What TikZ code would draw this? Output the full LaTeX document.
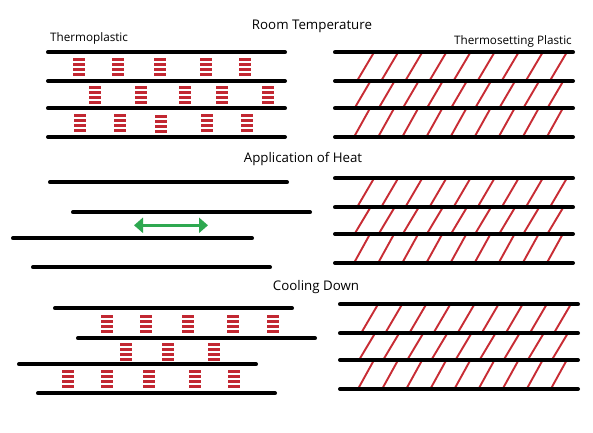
\documentclass[tikz,border=0pt]{standalone}
\usepackage{fontspec}
\setmainfont{Open Sans}
\usetikzlibrary{arrows.meta}
\definecolor{ladred}{RGB}{194,40,50}
\definecolor{hatred}{RGB}{200,44,52}
\definecolor{arrgreen}{RGB}{46,168,80}
\tikzset{
  chain/.style={line width=4pt, line cap=round, black},
  hatch/.style={line width=1.9pt, hatred},
  bigtitle/.style={font=\fontsize{13.3}{15}\selectfont, inner sep=0pt},
  smalltitle/.style={font=\fontsize{11.7}{13}\selectfont, inner sep=0pt},
  heatarrow/.style={line width=3pt, arrgreen, {Triangle[length=9pt,width=15pt]}-{Triangle[length=9pt,width=15pt]}}
}
\newcommand{\ladderat}[2]{%
  \foreach \k in {0,1,2,3}{\fill[ladred] (#1-6,#2+\k*5) rectangle (#1+6,#2+\k*5+3.2);}}
\newcommand{\hatchrow}[4]{% x0 dx ybottom ytop
  \foreach \i in {0,...,8}{\draw[hatch] (#1+\i*24.1,#3) -- (#1+\i*24.1+#2,#4);}}
\begin{document}
\begin{tikzpicture}[x=1pt,y=-1pt]
\useasboundingbox[fill=white] (0,0) rectangle (593,432);
% titles
\node[bigtitle] (t1) at (312,26) {Room Temperature};
\node[smalltitle, anchor=west] (tp) at (50,38) {Thermoplastic};
\node[smalltitle, anchor=east] (ts) at (572,41) {Thermosetting Plastic};
\node[bigtitle] (t2) at (303,159) {Application of Heat};
\node[bigtitle] (t3) at (316,287) {Cooling Down};
% ---- top left: thermoplastic at room temperature
\foreach \x in {79,118,160,206,245}{\ladderat{\x}{58}}
\foreach \x in {95,141,185,222,268}{\ladderat{\x}{86}}
\foreach \x in {80,120,207,247}{\ladderat{\x}{114}}
\ladderat{161}{115}
\foreach \y in {52.3,81,108.3,137}{\draw[chain] (48,\y) -- (285,\y);}
% ---- top right: thermosetting
\hatchrow{357}{17}{81}{52.3}
\hatchrow{354.5}{16}{108.3}{81}
\hatchrow{354}{16}{137}{108.3}
\foreach \y in {52.3,81,108.3,137}{\draw[chain] (335,\y) -- (573,\y);}
% ---- middle left: heated thermoplastic
\draw[chain] (50,182.3) -- (287,182.3);
\draw[chain] (73,212.3) -- (310,212.3);
\draw[chain] (13,238.3) -- (252,238.3);
\draw[chain] (33,267.3) -- (270,267.3);
\coordinate (hl) at (134,225.3);
\coordinate (hr) at (208,225.3);
\draw[heatarrow] (hl) -- (hr);
% ---- middle right
\hatchrow{357}{17}{207.3}{178.3}
\hatchrow{354.5}{16}{234}{207.3}
\hatchrow{354}{16}{263}{234}
\foreach \y in {178.3,207.3,234,263}{\draw[chain] (335,\y) -- (573,\y);}
% ---- bottom left: cooled thermoplastic
\foreach \x in {107,146,188,233,273}{\ladderat{\x}{314.5}}
\foreach \x in {126,168,214}{\ladderat{\x}{343}}
\foreach \x in {68,107,149,195,234}{\ladderat{\x}{369.5}}
\draw[chain] (55,308.3) -- (292,308.3);
\draw[chain] (78,338.3) -- (315,338.3);
\draw[chain] (19,364.3) -- (256,364.3);
\draw[chain] (38,393.3) -- (275,393.3);
% ---- bottom right
\hatchrow{361}{17}{333.3}{304.3}
\hatchrow{359}{16}{360}{333.3}
\hatchrow{358}{16}{389}{360}
\foreach \y in {304.3,333.3,360,389}{\draw[chain] (340,\y) -- (578,\y);}
\end{tikzpicture}
\end{document}
